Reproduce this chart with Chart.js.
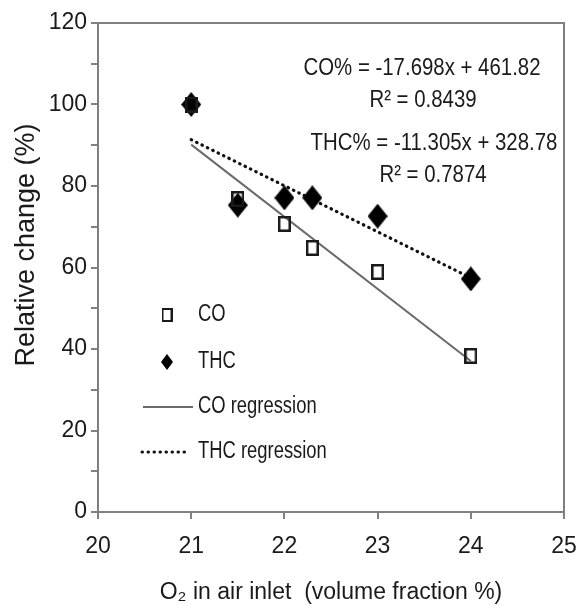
<!DOCTYPE html>
<html>
<head>
<meta charset="utf-8">
<script src="https://cdn.jsdelivr.net/npm/chart.js@4.4.1/dist/chart.umd.min.js"></script>
<style>
  html, body { margin: 0; padding: 0; background: #fff; }
  #wrap { width: 579px; height: 610px; position: relative; }
</style>
</head>
<body>
<div id="wrap"><canvas id="chart" width="579" height="610"></canvas></div>
<script>
// ── DATA ──
var oxygen   = [21, 21.5, 22, 22.3, 23, 24];
var coVals   = [100, 76.8, 70.7, 64.8, 58.9, 38.3];
var thcVals  = [100, 75.3, 77.1, 77.1, 72.6, 57.2];
var fitX     = [21, 24];
var coFit    = [90.16, 37.07];
var thcFit   = [91.37, 57.46];
var eqLines  = ['CO% = -17.698x + 461.82', 'R\u00b2 = 0.8439', 'THC% = -11.305x + 328.78', 'R\u00b2 = 0.7874'];
var legLabels = ['CO', 'THC', 'CO regression', 'THC regression'];
var yTitle   = 'Relative change (%)';

var FONT = "'Liberation Sans', Arial, sans-serif";
var INK = '#1a1a1a', AXIS = '#808080', LINEGRAY = '#6a6a6a';

// marker images (taller than wide, like the source)
function squareImg(w, h, lw) {
  var c = document.createElement('canvas'); c.width = w; c.height = h;
  var g = c.getContext('2d');
  g.strokeStyle = INK; g.lineWidth = lw;
  g.strokeRect(lw/2, lw/2, w - lw, h - lw);
  return c;
}
function diamondImg(w, h) {
  var c = document.createElement('canvas'); c.width = w; c.height = h;
  var g = c.getContext('2d');
  g.fillStyle = '#000';
  g.beginPath(); g.moveTo(w/2, 0); g.lineTo(w, h/2); g.lineTo(w/2, h); g.lineTo(0, h/2); g.closePath(); g.fill();
  return c;
}
var sqMark = squareImg(13, 16, 2.5), dmMark = diamondImg(20, 25);
var sqLeg  = squareImg(11, 14, 2),   dmLeg  = diamondImg(12, 16);

function pts(xs, ys) { return xs.map(function(x, i){ return { x: x, y: ys[i] }; }); }

// legend, equations, y title, frame
var extras = {
  id: 'extras',
  afterDraw: function(chart) {
    var ctx = chart.ctx, a = chart.chartArea;
    ctx.save();
    // frame top + right
    ctx.strokeStyle = AXIS; ctx.lineWidth = 2;
    ctx.beginPath(); ctx.moveTo(a.left - 1, a.top); ctx.lineTo(a.right, a.top); ctx.lineTo(a.right, a.bottom); ctx.stroke();

    ctx.fillStyle = INK; ctx.textBaseline = 'middle';
    // y axis title (sits a bit above the plot centre in the source)
    ctx.save(); ctx.translate(27, 245); ctx.rotate(-Math.PI / 2);
    ctx.font = '27px ' + FONT; ctx.textAlign = 'center'; ctx.fillText(yTitle, 0, 0); ctx.restore();

    // equations
    ctx.font = '24px ' + FONT;
    var eqPos = [[422, 68], [423, 100], [434, 143], [433, 175]];
    ctx.textAlign = 'center';
    eqLines.forEach(function(t, i) {
      ctx.save(); ctx.translate(eqPos[i][0], eqPos[i][1]); ctx.scale(0.85, 1); ctx.fillText(t, 0, 0); ctx.restore();
    });
    // legend
    ctx.font = '23px ' + FONT;
    var ly = [315, 362, 407, 452];
    ctx.drawImage(sqLeg, 167 - sqLeg.width/2, ly[0] - sqLeg.height/2);
    ctx.drawImage(dmLeg, 167 - dmLeg.width/2, ly[1] - dmLeg.height/2);
    ctx.strokeStyle = LINEGRAY; ctx.lineWidth = 2;
    ctx.beginPath(); ctx.moveTo(143, ly[2]); ctx.lineTo(193, ly[2]); ctx.stroke();
    ctx.strokeStyle = '#111'; ctx.lineWidth = 3; ctx.lineCap = 'round'; ctx.setLineDash([0.5, 5.5]);
    ctx.beginPath(); ctx.moveTo(142, ly[3]); ctx.lineTo(190, ly[3]); ctx.stroke();
    ctx.setLineDash([]);
    ctx.textAlign = 'left';
    legLabels.forEach(function(t, i) {
      ctx.save(); ctx.translate(198, ly[i]); ctx.scale(0.8, 1); ctx.fillText(t, 0, 0); ctx.restore();
    });
    ctx.restore();
  }
};

new Chart(document.getElementById('chart').getContext('2d'), {
  type: 'scatter',
  data: {
    datasets: [
      { label: 'CO',  data: pts(oxygen, coVals),  pointStyle: sqMark, pointRadius: 8, showLine: false },
      { label: 'THC', data: pts(oxygen, thcVals), pointStyle: dmMark, pointRadius: 10, showLine: false },
      { label: 'CO regression',  data: pts(fitX, coFit),  showLine: true, pointRadius: 0, borderColor: LINEGRAY, borderWidth: 2 },
      { label: 'THC regression', data: pts(fitX, thcFit), showLine: true, pointRadius: 0, borderColor: '#111', borderWidth: 3.2,
        borderDash: [0.5, 5.5], borderCapStyle: 'round' }
    ]
  },
  options: {
    responsive: false, animation: false,
    layout: { padding: { top: 23, right: 15, left: 0, bottom: 0 } },
    plugins: { legend: { display: false }, tooltip: { enabled: false } },
    scales: {
      x: {
        min: 20, max: 25,
        ticks: { stepSize: 1, color: INK, font: { family: FONT, size: 23 }, padding: 14, maxRotation: 0 },
        grid: { drawOnChartArea: false, color: AXIS, lineWidth: 2, tickLength: 7 },
        border: { color: AXIS, width: 2 },
        title: { display: true, text: 'O\u2082 in air inlet  (volume fraction %)', color: INK, font: { family: FONT, size: 23 }, padding: { top: 0, bottom: 4 } },
        afterFit: function(s) { s.height = 98; s.paddingLeft = 0; s.paddingRight = 0; }
      },
      y: {
        min: 0, max: 120,
        ticks: { stepSize: 10, color: INK, font: { family: FONT, size: 23 }, padding: 4,
          callback: function(v) { return v % 20 === 0 ? v : ''; } },
        grid: { drawOnChartArea: false, color: AXIS, lineWidth: 2, tickLength: 7 },
        border: { color: AXIS, width: 2 },
        afterFit: function(s) { s.width = 98; s.paddingTop = 0; s.paddingBottom = 0; }
      }
    }
  },
  plugins: [extras]
});
</script>
</body>
</html>
